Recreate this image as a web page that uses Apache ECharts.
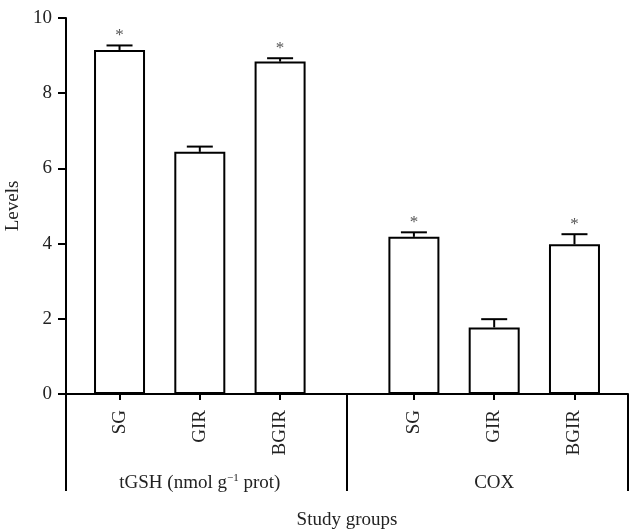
<!DOCTYPE html>
<html>
<head>
<meta charset="utf-8">
<script src="https://cdn.jsdelivr.net/npm/echarts@6/dist/echarts.min.js"></script>
<style>
html,body{margin:0;padding:0;background:#fff;}
#chart{width:631px;height:529px;}
</style>
</head>
<body>
<div id="chart"></div>
<script>
// ---- data ----
const subgroups = ['SG', 'GIR', 'BGIR'];
const groupLabels = ['tGSH (nmol g{sup|\u22121} prot)', 'COX'];
const tgshValues = [9.15, 6.44, 8.84];
const tgshErrors = [0.12, 0.14, 0.09];
const coxValues = [4.18, 1.77, 3.98];
const coxErrors = [0.12, 0.22, 0.27];
const significance = ['*', '', '*'];
const yTicks = [0, 2, 4, 6, 8, 10];
const xTitle = 'Study groups';
const yTitle = 'Levels';

// ---- layout helpers (category slots) ----
const LEAD = 2, STEP = 3, GAP = 5, TRAIL = 2;
const groupValues = [tgshValues, coxValues];
const groupErrors = [tgshErrors, coxErrors];
const nSub = subgroups.length;
const totalIntervals = LEAD + 2 * (nSub - 1) * STEP + GAP + TRAIL;
const categories = new Array(totalIntervals + 1).fill('');
const barData = new Array(totalIntervals + 1).fill('-');
const errData = [];
const errSig = [];
const groupCenterIdx = [];
const slotIdx = (g, i) => LEAD + g * ((nSub - 1) * STEP + GAP) + i * STEP;
for (let g = 0; g < groupValues.length; g++) {
  for (let i = 0; i < nSub; i++) {
    const k = slotIdx(g, i);
    categories[k] = subgroups[i];
    barData[k] = groupValues[g][i];
    errData.push([k, groupValues[g][i], groupErrors[g][i]]);
    errSig.push(significance[i]);
  }
  groupCenterIdx.push(slotIdx(g, Math.floor(nSub / 2)));
}

const FONT = "'Liberation Serif', 'DejaVu Serif', serif";
const FS = 19;
const TXT = '#222';
const chart = echarts.init(document.getElementById('chart'), null, {renderer: 'canvas'});

chart.setOption({
  animation: false,
  backgroundColor: '#fff',
  grid: {left: 66, right: 3, top: 18, bottom: 135, containLabel: false, outerBoundsMode: 'none'},
  xAxis: {
    type: 'category',
    data: categories,
    boundaryGap: false,
    axisLine: {lineStyle: {color: '#000', width: 2}},
    axisTick: {
      show: true, length: 6, inside: false,
      interval: (idx, val) => val !== '',
      lineStyle: {color: '#000', width: 2}
    },
    axisLabel: {
      interval: (idx, val) => val !== '',
      rotate: 90,
      margin: 16,
      fontFamily: FONT, fontSize: FS, color: TXT
    },
    splitLine: {show: false},
    name: xTitle,
    nameLocation: 'middle',
    nameGap: 117,
    nameTextStyle: {fontFamily: FONT, fontSize: FS, color: TXT}
  },
  yAxis: {
    type: 'value',
    min: yTicks[0], max: yTicks[yTicks.length - 1], interval: yTicks[1] - yTicks[0],
    axisLine: {show: true, lineStyle: {color: '#000', width: 2}},
    axisTick: {show: true, length: 8, lineStyle: {color: '#000', width: 2}},
    axisLabel: {margin: 14, fontFamily: FONT, fontSize: FS, color: TXT},
    splitLine: {show: false},
    name: yTitle,
    nameLocation: 'middle',
    nameGap: 37,
    nameTextStyle: {fontFamily: FONT, fontSize: FS, color: TXT}
  },
  series: [
    {
      type: 'bar',
      data: barData,
      barWidth: 51,
      itemStyle: {color: '#fff', borderColor: '#000', borderWidth: 2},
      z: 2
    },
    {
      type: 'custom',
      data: errData,
      z: 3,
      renderItem: function (params, api) {
        const x = api.value(0), v = api.value(1), e = api.value(2);
        const base = api.coord([x, v]);
        const top = api.coord([x, v + e]);
        const half = 13;
        const sig = errSig[params.dataIndex];
        const children = [
          {type: 'line', shape: {x1: base[0], y1: base[1], x2: top[0], y2: top[1]},
           style: {stroke: '#000', lineWidth: 2}},
          {type: 'line', shape: {x1: top[0] - half, y1: top[1], x2: top[0] + half, y2: top[1]},
           style: {stroke: '#000', lineWidth: 2}}
        ];
        if (sig) {
          children.push({type: 'text', x: top[0], y: top[1] - 1,
            style: {text: sig, fill: '#555', font: '17px ' + FONT, align: 'center', verticalAlign: 'bottom'}});
        }
        return {type: 'group', children: children};
      }
    }
  ]
});

// ---- bottom brackets and group labels ----
const y0 = chart.convertToPixel({yAxisIndex: 0}, 0);
const bracketLen = 97;
const xLeft = chart.convertToPixel({xAxisIndex: 0}, 0);
const xRight = chart.convertToPixel({xAxisIndex: 0}, totalIntervals);
const lastOfFirst = slotIdx(0, nSub - 1), firstOfSecond = slotIdx(1, 0);
const xDiv = (chart.convertToPixel({xAxisIndex: 0}, lastOfFirst) + chart.convertToPixel({xAxisIndex: 0}, firstOfSecond)) / 2;
const gfx = [];
[xLeft, xDiv, xRight].forEach(function (x) {
  gfx.push({type: 'line', shape: {x1: x, y1: y0, x2: x, y2: y0 + bracketLen},
    style: {stroke: '#000', lineWidth: 2}, z: 10});
});
groupCenterIdx.forEach(function (k, g) {
  const cx = chart.convertToPixel({xAxisIndex: 0}, k);
  gfx.push({type: 'text', x: cx, y: y0 + 89, z: 10,
    style: {text: groupLabels[g], fill: TXT, font: FS + 'px ' + FONT, align: 'center', verticalAlign: 'middle',
      rich: {sup: {fontSize: 11, fontFamily: FONT, fill: TXT, verticalAlign: 'top', padding: [0, 0, 9, 0]}}}});
});
chart.setOption({graphic: gfx});
</script>
</body>
</html>
